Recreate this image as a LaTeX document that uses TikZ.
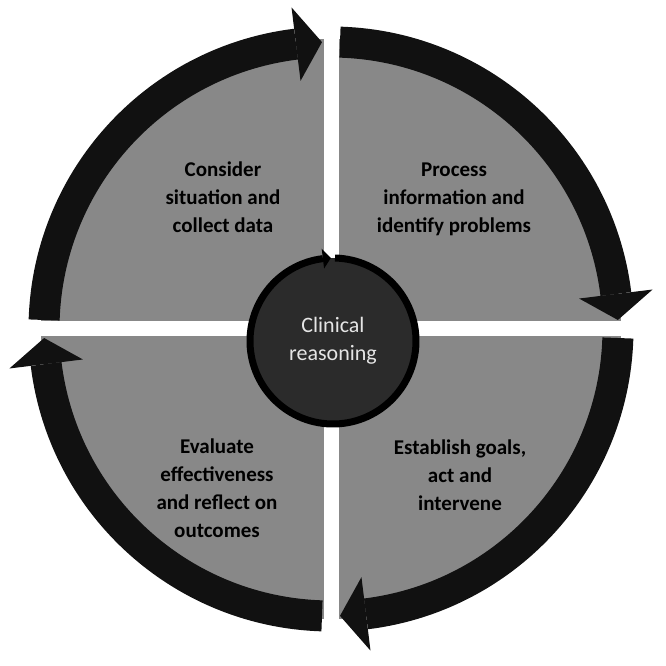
\documentclass[tikz,border=0pt]{standalone}
\usepackage{fontspec}
\setmainfont{Carlito}
\usetikzlibrary{positioning}
\definecolor{sectorgray}{HTML}{888888}
\definecolor{hubgray}{HTML}{2B2B2B}
\definecolor{bandblack}{HTML}{111111}

\begin{document}
\begin{tikzpicture}[
    x=1pt, y=1pt,
    sector/.style={fill=sectorgray},
    gapline/.style={draw=white, line width=15pt},
    band/.style={draw=bandblack, line width=31pt},
    head/.style={fill=bandblack},
    ring/.style={draw=black, line width=7pt},
    quadtext/.style={align=center, text=black,
                     font=\fontsize{21}{28}\selectfont\bfseries},
    hub/.style={circle, fill=hubgray, minimum size=166pt, inner sep=0pt,
                align=center, text=white!90!black,
                font=\fontsize{22}{28}\selectfont},
]
\useasboundingbox (-331,-337) rectangle (335,329);

% Quadrants
\fill[sector] (0,0) circle[radius=290];
\draw[gapline] (-300,0) -- (300,0);
\draw[gapline] (0,-300) -- (0,300);

% Cycle arrows (clockwise)
\foreach \s in {180,90,0,-90} {
  \draw[band] (\s-1.8:287) arc[start angle=\s-1.8, end angle=\s-83, radius=287];
  \fill[head] (\s-83:250) -- (\s-83:324) -- (\s-88.2:287) -- cycle;
}

% Hub
\node[hub] (hub) at (2,-12) {Clinical\\reasoning};
\draw[ring] ([shift={(2,-12)}]88.6:83) arc[start angle=88.6, end angle=-263, radius=83];
\fill[black] ([shift={(2,-12)}]97:73) -- ([shift={(2,-12)}]97:93) -- ([shift={(2,-12)}]91.5:83) -- cycle;

% Steps
\node[quadtext] (consider) at (-108,132) {Consider\\situation and\\collect data};
\node[quadtext] (process) at (123,130) {Process\\information and\\identify problems};
\node[quadtext] (establish) at (129,-146) {Establish goals,\\act and\\intervene};
\node[quadtext] (evaluate) at (-114,-159) {Evaluate\\effectiveness\\and reflect on\\outcomes};

\end{tikzpicture}
\end{document}
